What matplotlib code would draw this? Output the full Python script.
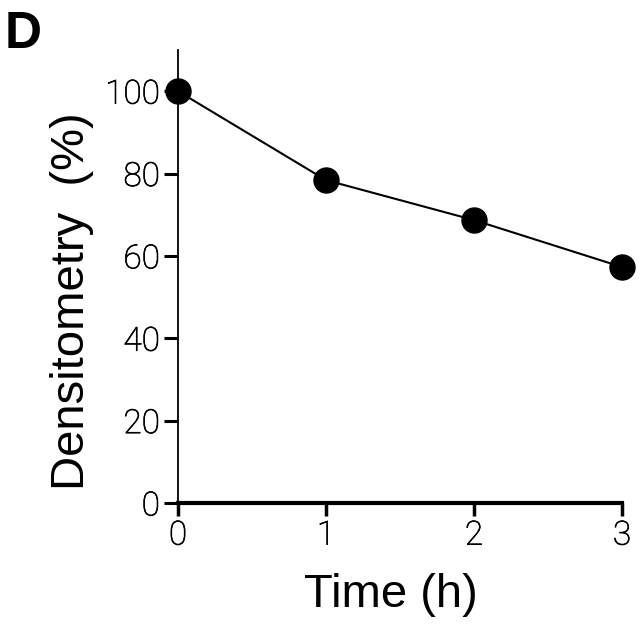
import matplotlib
matplotlib.use("Agg")
import matplotlib.pyplot as plt
import matplotlib.patheffects as pe

time_h = [0, 1, 2, 3]
densitometry = [100, 78.4, 68.7, 57.3]
x_ticks = [0, 1, 2, 3]
y_ticks = [0, 20, 40, 60, 80, 100]

fig = plt.figure(figsize=(6.4, 6.39), dpi=100)
ax = fig.add_axes([178 / 640, 136 / 639, 444 / 640, 453 / 639])

ax.plot(time_h, densitometry, color="black", lw=1.5, marker="o",
        markersize=18, markerfacecolor="black", clip_on=False, zorder=3)

ax.set_xlim(0, 3)
ax.set_ylim(0, 110)
ax.spines["top"].set_visible(False)
ax.spines["right"].set_visible(False)
ax.spines["left"].set_linewidth(1.3)
ax.spines["bottom"].set_linewidth(3)
ax.spines["left"].set_bounds(0, 110)
ax.spines["bottom"].set_bounds(0, 3)

ax.set_xticks(x_ticks)
ax.set_yticks(y_ticks)
tick_font = dict(family="Roboto", weight="light", size=24, color="black")
ax.set_xticklabels([str(v) for v in x_ticks], **tick_font)
ax.set_yticklabels([str(v) for v in y_ticks], **tick_font)
# thin font renders greyish, a hairline stroke keeps it black
for lab in ax.get_xticklabels() + ax.get_yticklabels():
    lab.set_path_effects([pe.withStroke(linewidth=0.5, foreground="black")])
ax.tick_params(axis="x", direction="out", length=9, width=2.5, pad=3)
ax.tick_params(axis="y", direction="out", length=10, width=2.2, pad=3)

label_font = dict(family="Liberation Sans", size=34)
ax.set_xlabel("Time (h)", **label_font)
ax.xaxis.set_label_coords(0.48, -0.155)
ax.set_ylabel("Densitometry  (%)", **label_font)
ax.yaxis.set_label_coords(-0.19, 0.446)

fig.text(0.008, 0.985, "D", family="Liberation Sans", weight="bold",
         size=37, va="top", ha="left")

plt.savefig("out.png", dpi=100)
